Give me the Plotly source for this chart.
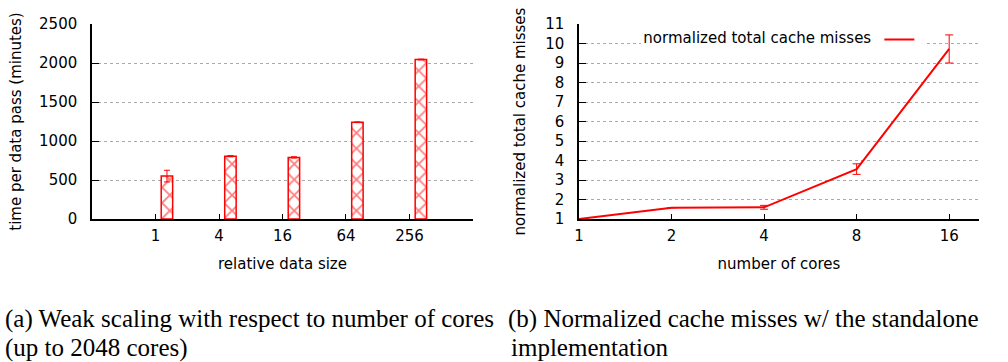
import plotly.graph_objects as go

# ---- data: (a) weak scaling ----
sizes = ["1", "4", "16", "64", "256"]
time_minutes = [550, 805, 790, 1240, 2045]
time_err = [75, 8, 8, 5, 5]

# ---- data: (b) cache misses ----
cores = [1, 2, 4, 8, 16]
cache_misses = [1.0, 1.58, 1.6, 3.56, 9.72]
cache_err = [0, 0, 0.1, 0.27, 0.72]

RED = "#ff0000"
TICKFONT = dict(family="DejaVu Sans", size=15, color="black")
TITLEFONT = dict(family="DejaVu Sans", size=15, color="black")

fig = go.Figure()

fig.add_trace(go.Bar(
    x=list(range(len(sizes))), y=time_minutes,
    offset=0.09, width=0.18,
    marker=dict(color="white", line=dict(color=RED, width=1.5),
                pattern=dict(shape="x", fgcolor=RED, bgcolor="white", size=11, solidity=0.3)),
    error_y=dict(type="data", array=time_err, color=RED, thickness=1, width=3),
    showlegend=False, xaxis="x", yaxis="y",
))

fig.add_trace(go.Scatter(
    x=cores, y=cache_misses, mode="lines", name="",
    line=dict(color=RED, width=2),
    error_y=dict(type="data", array=cache_err, color=RED, thickness=1, width=4),
    showlegend=True, xaxis="x2", yaxis="y2",
))

axis_common = dict(showline=True, linecolor="black", linewidth=1.5, ticks="inside",
                   tickcolor="black", tickfont=TICKFONT, zeroline=False, automargin=False)

fig.update_layout(
    width=1008, height=362,
    margin=dict(l=0, r=0, t=0, b=0),
    paper_bgcolor="white", plot_bgcolor="white",
    font=dict(family="DejaVu Sans", size=15, color="black"),
    xaxis=dict(domain=[0.0913, 0.4692], range=[-1, 5], anchor="y",
               tickvals=list(range(len(sizes))), ticktext=sizes,
               showgrid=False, ticklen=5, ticklabelstandoff=2,
               title=dict(text="relative data size", standoff=15, font=TITLEFONT), **axis_common),
    yaxis=dict(domain=[0.395, 0.9337], range=[0, 2500], dtick=500, anchor="x",
               showgrid=True, gridcolor="#aaaaaa", griddash="dot", gridwidth=1,
               ticklen=7, ticklabelstandoff=10,
               title=dict(text="time per data pass (minutes)", standoff=14, font=TITLEFONT), **axis_common),
    xaxis2=dict(domain=[0.5744, 0.9712], type="log", range=[0, 1.301], anchor="y2",
                tickvals=cores, ticktext=[str(c) for c in cores],
                showgrid=False, ticklen=5, ticklabelstandoff=2,
                title=dict(text="number of cores", standoff=15, font=TITLEFONT), **axis_common),
    yaxis2=dict(domain=[0.395, 0.9337], range=[1, 11], dtick=1, anchor="x2",
                showgrid=True, gridcolor="#aaaaaa", griddash="dot", gridwidth=1,
                ticklen=7, ticklabelstandoff=10,
                title=dict(text="normalized total cache misses", standoff=16, font=TITLEFONT), **axis_common),
    legend=dict(x=0.918, y=0.89, xanchor="right", yanchor="middle",
                bgcolor="white", borderwidth=0,
                title=dict(text="normalized total cache misses", side="left",
                           font=dict(family="DejaVu Sans", size=15)),
                font=dict(size=15), itemwidth=30),
)

cap_font = dict(family="Liberation Serif", size=25, color="black")
captions = [
    (0.003, 0.118, "(a) Weak scaling with respect to number of cores"),
    (0.003, 0.040, "(up to 2048 cores)"),
    (0.502, 0.118, "(b) Normalized cache misses w/ the standalone"),
    (0.505, 0.040, "implementation"),
]
for x, y, t in captions:
    fig.add_annotation(x=x, y=y, xref="paper", yref="paper", text=t, showarrow=False,
                       xanchor="left", yanchor="middle", font=cap_font)

fig.write_html("out.html", config={"displayModeBar": False},
               post_script="document.body.style.margin='0';")
